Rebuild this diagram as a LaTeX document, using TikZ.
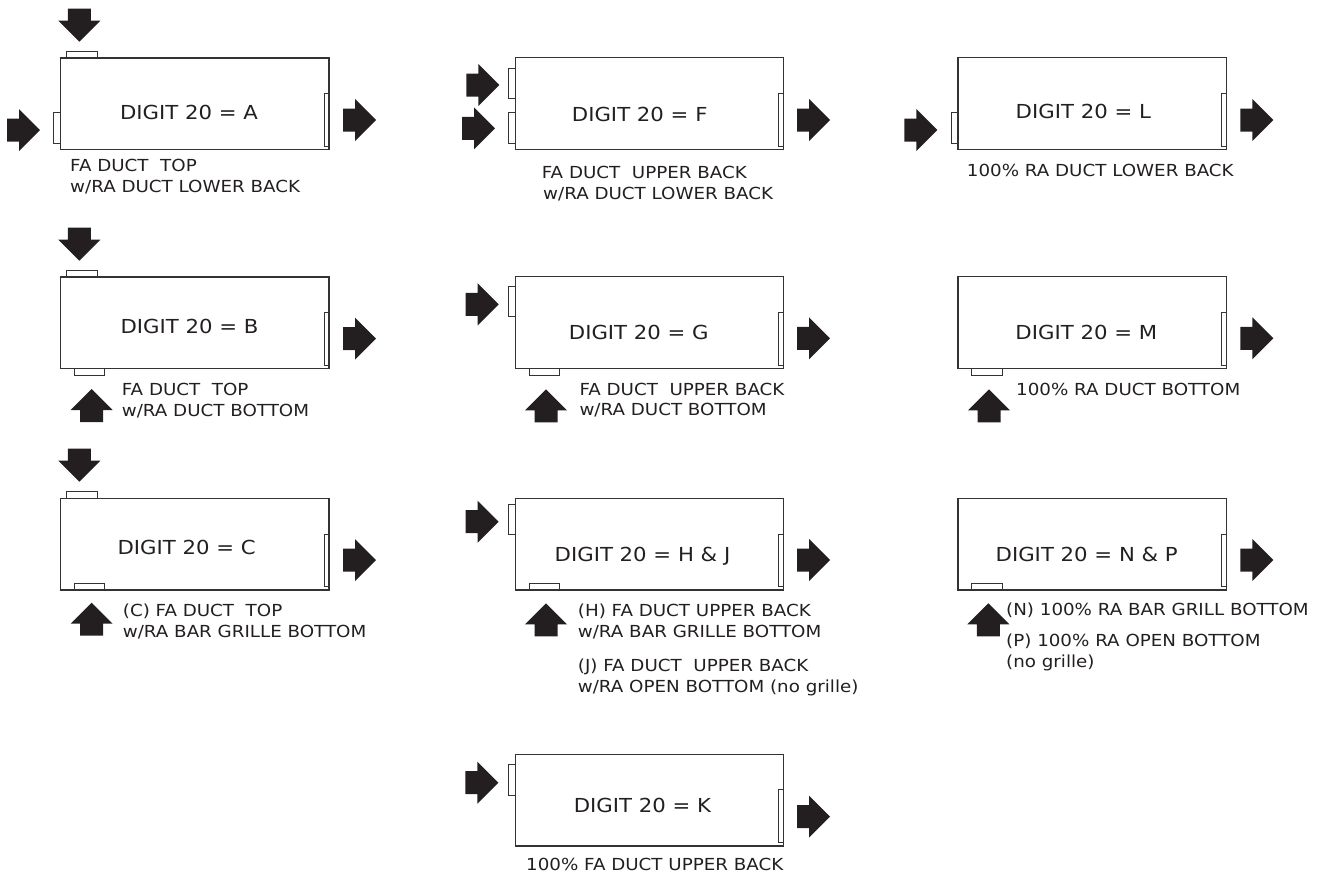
\documentclass[tikz,border=0pt]{standalone}
\usepackage{fontspec}
\setmainfont[FakeStretch=1.1]{DejaVu Sans}
\definecolor{ink}{HTML}{231F20}
\definecolor{edge}{HTML}{333333}
\begin{document}
\begin{tikzpicture}[x=1pt,y=-1pt,
 unitbox/.style={draw=edge, line width=1.2pt},
 duct/.style={draw=edge, line width=0.9pt},
 pics/flowR/.style={code={\fill[ink] (0,0) -- (-21,-21) -- (-21,-11.5) -- (-33,-11.5) -- (-33,11.5) -- (-21,11.5) -- (-21,21) -- cycle;}},
 pics/flowD/.style={code={\fill[ink] (0,0) -- (-21,-21) -- (-11.5,-21) -- (-11.5,-33) -- (11.5,-33) -- (11.5,-21) -- (21,-21) -- cycle;}},
 pics/flowU/.style={code={\fill[ink] (0,0) -- (-21,21) -- (-11.5,21) -- (-11.5,33) -- (11.5,33) -- (11.5,21) -- (21,21) -- cycle;}},
 title/.style={font=\fontsize{19.3}{22}\selectfont, text=ink, inner sep=0pt, anchor=base},
 note/.style={font=\fontsize{16.6}{20.5}\selectfont, text=ink, inner sep=0pt, anchor=base west}]
\useasboundingbox (0,0) rectangle (1330,878);

% ---------- Column 1 ----------
% A
\draw[unitbox] (60.5,58) rectangle (329,149.3);
\draw[duct] (66.7,51) rectangle (97,58);
\draw[duct] (53.3,112.7) rectangle (60.5,143.3);
\draw[duct] (324,93.7) rectangle (329,146);
\pic (aD) at (79.3,41.7) {flowD};
\pic (aL) at (40,130) {flowR};
\pic (aR) at (376,120) {flowR};
\node[title] (tA) at (189,119.8) {DIGIT 20 = A};
\node[note] (nA1) at (70,171.7) {FA DUCT\ \ TOP};
\node[note] (nA2) at (70,192) {w/RA DUCT LOWER BACK};

% B
\draw[unitbox] (60.5,277) rectangle (329,368.5);
\draw[duct] (66.7,270) rectangle (97,277);
\draw[duct] (74.3,368.5) rectangle (104.3,375.3);
\draw[duct] (324,312.3) rectangle (329,365.7);
\pic (bD) at (79.3,260.7) {flowD};
\pic (bU) at (91.7,389) {flowU};
\pic (bR) at (376,338.7) {flowR};
\node[title] (tB) at (189.5,333.2) {DIGIT 20 = B};
\node[note] (nB1) at (121.7,395.7) {FA DUCT\ \ TOP};
\node[note] (nB2) at (121.7,416) {w/RA DUCT BOTTOM};

% C
\draw[unitbox] (60.5,498.3) rectangle (329,590);
\draw[duct] (66.7,491.7) rectangle (97,498.3);
\draw[duct] (74.3,583.3) rectangle (104.3,590);
\draw[duct] (324,534) rectangle (329,586.7);
\pic (cD) at (79.3,481.7) {flowD};
\pic (cU) at (91.7,602.7) {flowU};
\pic (cR) at (376,560) {flowR};
\node[title] (tC) at (186.7,554.8) {DIGIT 20 = C};
\node[note] (nC1) at (122.7,616.7) {(C) FA DUCT\ \ TOP};
\node[note] (nC2) at (122.7,637.3) {w/RA BAR GRILLE BOTTOM};

% ---------- Column 2 ----------
% F
\draw[unitbox] (515.3,57.5) rectangle (783.3,149.3);
\draw[duct] (508.3,68.3) rectangle (515.3,98.3);
\draw[duct] (508.3,112.7) rectangle (515.3,143.3);
\draw[duct] (778.7,93.3) rectangle (783.3,146);
\pic (fL1) at (499.3,85) {flowR};
\pic (fL2) at (495,128.3) {flowR};
\pic (fR) at (830,120) {flowR};
\node[title] (tF) at (639.7,121.5) {DIGIT 20 = F};
\node[note] (nF1) at (541.7,178) {FA DUCT\ \ UPPER BACK};
\node[note] (nF2) at (543,199.3) {w/RA DUCT LOWER BACK};

% G
\draw[unitbox] (515.3,276.7) rectangle (783.3,368.3);
\draw[duct] (508.3,286.7) rectangle (515.3,316.7);
\draw[duct] (529,368.3) rectangle (559,375);
\draw[duct] (778.7,312.3) rectangle (783.3,365);
\pic (gL) at (498.7,304.3) {flowR};
\pic (gU) at (546,389.3) {flowU};
\pic (gR) at (830,338.3) {flowR};
\node[title] (tG) at (638.8,339.8) {DIGIT 20 = G};
\node[note] (nG1) at (579.3,395) {FA DUCT\ \ UPPER BACK};
\node[note] (nG2) at (579.3,415) {w/RA DUCT BOTTOM};

% H & J
\draw[unitbox] (515.3,498.3) rectangle (783.3,590);
\draw[duct] (508.3,504.3) rectangle (515.3,534.3);
\draw[duct] (529,583.3) rectangle (559,590);
\draw[duct] (778.7,534) rectangle (783.3,586);
\pic (hL) at (498.7,521.7) {flowR};
\pic (hU) at (546,603.3) {flowU};
\pic (hR) at (830,560) {flowR};
\node[title] (tH) at (642.5,561.5) {DIGIT 20 = H \& J};
\node[note] (nH1) at (577.7,616) {(H) FA DUCT UPPER BACK};
\node[note] (nH2) at (577.7,637.3) {w/RA BAR GRILLE BOTTOM};
\node[note] (nJ1) at (577.7,671.7) {(J) FA DUCT\ \ UPPER BACK};
\node[note] (nJ2) at (577.7,692.3) {w/RA OPEN BOTTOM (no grille)};

% K
\draw[unitbox] (515.3,754.3) rectangle (783.3,846);
\draw[duct] (508.3,764.3) rectangle (515.3,795);
\draw[duct] (778.5,789.3) rectangle (783.3,842.7);
\pic (kL) at (498.3,782.7) {flowR};
\pic (kR) at (830,816.7) {flowR};
\node[title] (tK) at (642.5,812.5) {DIGIT 20 = K};
\node[note] (nK) at (526,870) {100\% FA DUCT UPPER BACK};

% ---------- Column 3 ----------
% L
\draw[unitbox] (958,57.7) rectangle (1226.5,149.3);
\draw[duct] (951.3,112.7) rectangle (958,143.3);
\draw[duct] (1221.7,93.3) rectangle (1226.5,146);
\pic (lL) at (937.3,130) {flowR};
\pic (lR) at (1273.3,120) {flowR};
\node[title] (tL) at (1083.3,118.8) {DIGIT 20 = L};
\node[note] (nL) at (966.7,176.7) {100\% RA DUCT LOWER BACK};

% M
\draw[unitbox] (958,276.7) rectangle (1226.5,368.3);
\draw[duct] (971.7,368.3) rectangle (1002.3,375);
\draw[duct] (1221.7,312.3) rectangle (1226.5,365);
\pic (mU) at (989,389.3) {flowU};
\pic (mR) at (1273.3,338.3) {flowR};
\node[title] (tM) at (1086.3,339.8) {DIGIT 20 = M};
\node[note] (nM) at (1016,395) {100\% RA DUCT BOTTOM};

% N & P
\draw[unitbox] (958,498.3) rectangle (1226.5,590);
\draw[duct] (971.7,583.3) rectangle (1002.3,590);
\draw[duct] (1221.7,534) rectangle (1226.5,586);
\pic (pU) at (988.3,603.3) {flowU};
\pic (pR) at (1273.3,560) {flowR};
\node[title] (tN) at (1086.7,561.5) {DIGIT 20 = N \& P};
\node[note] (nN1) at (1006,615) {(N) 100\% RA BAR GRILL BOTTOM};
\node[note] (nP1) at (1006,646.7) {(P) 100\% RA OPEN BOTTOM};
\node[note] (nP2) at (1006,667.3) {(no grille)};
\end{tikzpicture}
\end{document}
